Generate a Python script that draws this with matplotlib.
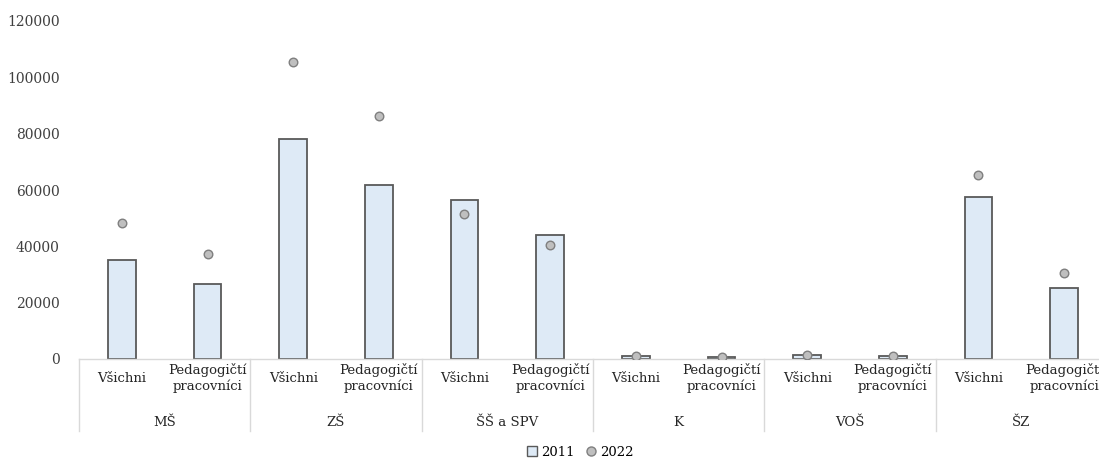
import matplotlib
matplotlib.use("Agg")
import matplotlib.pyplot as plt
from matplotlib.patches import Rectangle
from matplotlib.lines import Line2D

groups = ["MŠ", "ZŠ", "ŠŠ a SPV", "K", "VOŠ", "ŠZ"]
subcats = ["Všichni", "Pedagogičtí\npracovníci"]
v2011 = [35100, 26600, 78000, 61700, 56400, 44000, 1000, 800, 1500, 1200, 57400, 25200]
v2022 = [48200, 37200, 105300, 86200, 51400, 40400, 1200, 800, 1400, 1100, 65200, 30500]
yticks = [0, 20000, 40000, 60000, 80000, 100000, 120000]

W, H = 1099, 459
fig = plt.figure(figsize=(W / 100, H / 100), dpi=100)
plt.rcParams['font.family'] = ['DejaVu Serif']
left, right, bottom, top = 79, 1107, 359, 21
ax = fig.add_axes([left / W, (H - bottom) / H, (right - left) / W, (bottom - top) / H])

n = len(v2011)
xs = list(range(n))
bar_fill = "#DEEAF6"
bar_edge = "#595959"
ax.bar(xs, v2011, width=0.32, color=bar_fill, edgecolor=bar_edge, linewidth=1.3, zorder=2)
ax.scatter(xs, v2022, s=38, color="#BFBFBF", edgecolors="#7F7F7F", linewidths=1.0, zorder=3)

ax.set_xlim(-0.5, n - 0.5)
ax.set_ylim(0, 120000)
ax.set_yticks(yticks)
ax.set_yticklabels([str(t) for t in yticks], fontsize=10, color="#404040")
ax.tick_params(axis='y', length=0, pad=14)
ax.set_xticks([])
for s in ["top", "right", "left"]:
    ax.spines[s].set_visible(False)
ax.spines["bottom"].set_color("#D9D9D9")
ax.spines["bottom"].set_linewidth(1.0)

# category labels
trans = ax.get_xaxis_transform()
px = 1.0 / (bottom - top)  # axis fraction per pixel
for i in range(n):
    ax.text(i, -19 * px, subcats[i % 2], transform=trans, ha="center", va="center",
            fontsize=9.5, color="#262626", linespacing=1.25)
# group labels
for g, name in enumerate(groups):
    ax.text(2 * g + 0.5, -64 * px, name, transform=trans, ha="center", va="center",
            fontsize=9.5, color="#262626")
# separators
for b in range(0, n + 1, 2):
    ax.add_line(Line2D([b - 0.5, b - 0.5], [0, -72 * px], transform=trans,
                       color="#D9D9D9", linewidth=1.0, clip_on=False))

# legend
handles = [
    Rectangle((0, 0), 1, 1, facecolor=bar_fill, edgecolor=bar_edge, linewidth=1.0),
    Line2D([], [], marker="o", linestyle="none", markersize=6.5,
           markerfacecolor="#BFBFBF", markeredgecolor="#7F7F7F"),
]
fig.legend(handles, ["2011", "2022"], loc="center", bbox_to_anchor=(580 / W, 1 - 452 / H),
           ncol=2, frameon=False, fontsize=9.5, handlelength=0.8, handletextpad=0.3,
           columnspacing=0.8, handleheight=0.8)

fig.savefig("out.png", dpi=100)
